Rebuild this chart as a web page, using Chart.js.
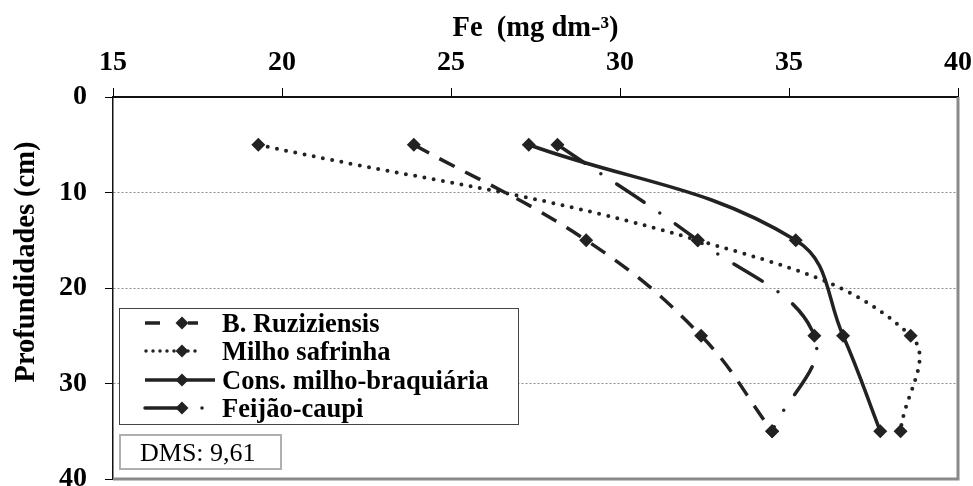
<!DOCTYPE html>
<html><head><meta charset="utf-8">
<script src="https://cdn.jsdelivr.net/npm/chart.js@4/dist/chart.umd.min.js"></script>
<style>html,body{margin:0;padding:0;background:#fff;overflow:hidden;}#wrap{width:973px;height:486px;overflow:hidden;position:relative;}canvas{display:block;}</style>
</head><body><div id="wrap"><canvas id="c" width="973" height="500"></canvas></div>
<script>
const depths = [5, 15, 25, 35];
const ruziziensis = [23.9, 29.0, 32.4, 34.5];
const milhoSafrinha = [19.3, 32.3, 38.6, 38.3];
const consorcio = [27.3, 35.2, 36.6, 37.7];
const feijaoCaupi = [28.15, 32.3, 35.75, 34.5];
const seriesNames = ['B. Ruziziensis', 'Milho safrinha', 'Cons. milho-braquiária', 'Feijão-caupi'];
const xTickValues = [15, 20, 25, 30, 35, 40];
const yTickValues = [0, 10, 20, 30, 40];
const xTitle = 'Fe  (mg dm-³)';
const yTitle = 'Profundidades (cm)';
const dmsText = 'DMS: 9,61';

const INK = '#222';
const SERIF = '"Liberation Serif", "Times New Roman", serif';
const styles = [
  {dash: [17, 12], cap: 'butt', width: 3.5},
  {dash: [0, 9.4], cap: 'round', width: 4},
  {dash: [], cap: 'butt', width: 3.5},
  {dash: [33, 19, 0, 19], cap: 'round', width: 3.5}
];
const values = [ruziziensis, milhoSafrinha, consorcio, feijaoCaupi];

const datasets = values.map((vals, i) => ({
  label: seriesNames[i],
  data: vals.map((v, k) => ({x: v, y: depths[k]})),
  showLine: true,
  tension: 0.4,
  borderColor: INK,
  backgroundColor: INK,
  borderWidth: styles[i].width,
  borderDash: styles[i].dash,
  borderCapStyle: styles[i].cap,
  pointStyle: 'rectRot',
  pointRadius: 7,
  pointBorderWidth: 0,
  pointBackgroundColor: INK
}));

function diamond(ctx, x, y, r) {
  ctx.beginPath();
  ctx.moveTo(x, y - r); ctx.lineTo(x + r, y); ctx.lineTo(x, y + r); ctx.lineTo(x - r, y);
  ctx.closePath(); ctx.fill();
}

const decor = {
  id: 'decor',
  afterDraw(chart) {
    const ctx = chart.ctx;
    const a = chart.chartArea;
    ctx.save();
    ctx.strokeStyle = '#8a8a8a';
    ctx.lineWidth = 3;
    ctx.beginPath();
    ctx.moveTo(a.right, a.top); ctx.lineTo(a.right, a.bottom);
    ctx.lineTo(a.left, a.bottom);
    ctx.stroke();
    ctx.fillStyle = '#000';
    ctx.font = 'bold 28.5px ' + SERIF;
    ctx.textAlign = 'center';
    ctx.textBaseline = 'alphabetic';
    ctx.fillText(xTitle, (a.left + a.right) / 2, 36);
    ctx.save();
    ctx.translate(27, 262);
    ctx.rotate(-Math.PI / 2);
    ctx.font = 'bold 28.5px ' + SERIF;
    ctx.textBaseline = 'middle';
    ctx.fillText(yTitle, 0, 0);
    ctx.restore();
    ctx.fillStyle = '#fff';
    ctx.fillRect(119, 308, 399, 116);
    ctx.strokeStyle = '#444';
    ctx.lineWidth = 1;
    ctx.strokeRect(119.5, 308.5, 399, 116);
    const baselines = [332, 360, 389, 417];
    const segs = [
      [[145, 160], [188, 198]],
      [[146, 200]],
      [[145, 215]],
      [[145, 180], [202, 202]]
    ];
    ctx.strokeStyle = INK; ctx.fillStyle = INK;
    baselines.forEach((b, i) => {
      const cy = b - 9;
      ctx.lineWidth = 3.5;
      if (i === 1) { ctx.setLineDash([0, 7]); ctx.lineCap = 'round'; }
      else { ctx.setLineDash([]); ctx.lineCap = i === 3 ? 'round' : 'butt'; }
      segs[i].forEach(s => {
        ctx.beginPath(); ctx.moveTo(s[0], cy); ctx.lineTo(s[1] + (s[0] === s[1] ? 0.01 : 0), cy); ctx.stroke();
      });
      ctx.setLineDash([]);
      diamond(ctx, 182, cy, 6.5);
      ctx.fillStyle = '#000';
      ctx.font = 'bold 26.5px ' + SERIF;
      ctx.textAlign = 'left';
      ctx.textBaseline = 'alphabetic';
      ctx.fillText(seriesNames[i], 222, b);
      ctx.fillStyle = INK;
    });
    ctx.fillStyle = '#fff';
    ctx.fillRect(119, 434, 162, 35);
    ctx.strokeStyle = '#b0b0b0';
    ctx.lineWidth = 2;
    ctx.strokeRect(120, 435, 161, 34);
    ctx.fillStyle = '#000';
    ctx.font = '26px ' + SERIF;
    ctx.textAlign = 'left';
    ctx.fillText(dmsText, 140, 461);
    ctx.restore();
  }
};

new Chart(document.getElementById('c'), {
  type: 'scatter',
  data: {datasets},
  plugins: [decor],
  options: {
    responsive: false,
    animation: false,
    events: [],
    layout: {padding: {left: 0, top: 0, right: 15, bottom: 21}},
    plugins: {legend: {display: false}, tooltip: {enabled: false}, title: {display: false}},
    scales: {
      x: {
        type: 'linear', position: 'top', min: 15, max: 40,
        afterBuildTicks: s => { s.ticks = xTickValues.map(v => ({value: v})); },
        afterFit: s => { s.height = 97; s.paddingLeft = 0; s.paddingRight = 0; },
        ticks: {color: '#000', font: {family: SERIF, size: 28, weight: 'bold'}, padding: 8, maxRotation: 0},
        grid: {drawOnChartArea: false, drawTicks: true, tickLength: 9, tickColor: '#000', tickWidth: 1},
        border: {display: true, color: '#111', width: 2}
      },
      y: {
        type: 'linear', reverse: true, min: 0, max: 40,
        afterBuildTicks: s => { s.ticks = yTickValues.map(v => ({value: v})); },
        afterFit: s => { s.width = 113; s.paddingTop = 0; s.paddingBottom = 0; },
        ticks: {color: '#000', font: {family: SERIF, size: 28, weight: 'bold'}, padding: 18},
        grid: {
          color: c => (c.tick && (c.tick.value === 0 || c.tick.value === 40)) ? 'rgba(0,0,0,0)' : '#8c8c8c',
          lineWidth: 1, tickLength: 8, tickColor: '#000', tickWidth: 1
        },
        border: {display: true, color: '#111', width: 1.5, dash: [2, 2]}
      }
    }
  }
});
</script>
</body></html>
